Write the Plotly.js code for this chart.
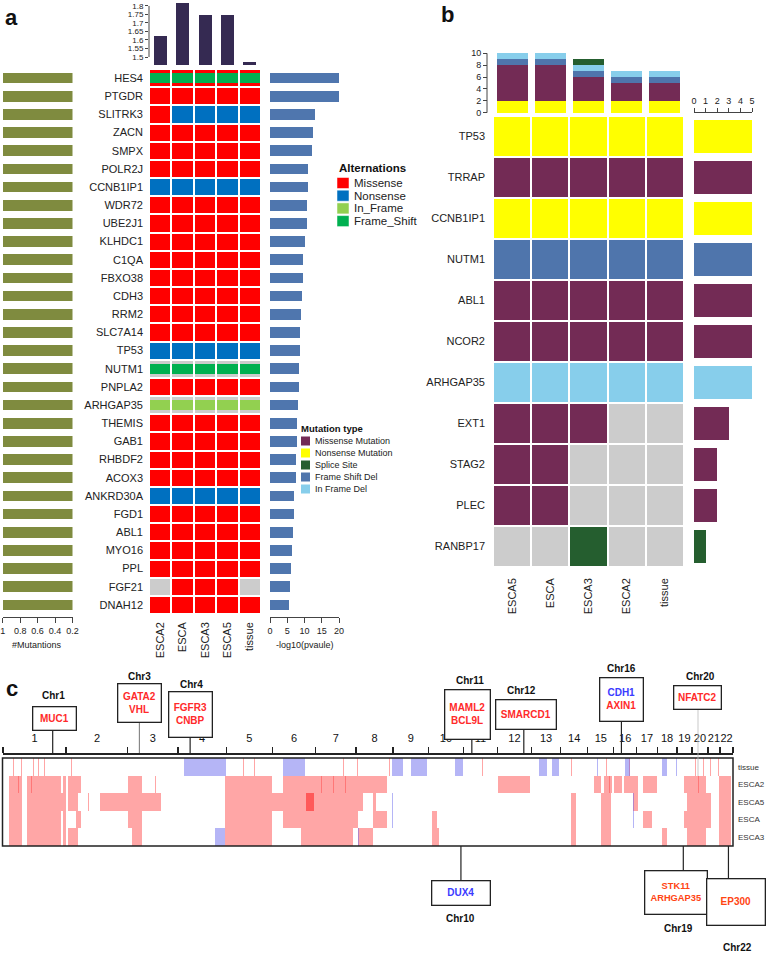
<!DOCTYPE html>
<html><head><meta charset="utf-8">
<script src="https://cdn.plot.ly/plotly-3.0.1.min.js"></script>
<style>body{margin:0;background:#fff}#chart{width:766px;height:953px}</style>
</head><body><div id="chart"></div>
<script>
// ================= DATA =================
// ---- Panel a ----
const aSamples = ['ESCA2','ESCA','ESCA3','ESCA5','tissue'];
const aTopValues = [1.625, 1.82, 1.745, 1.745, 1.472];
const aGenes = ['HES4','PTGDR','SLITRK3','ZACN','SMPX','POLR2J','CCNB1IP1','WDR72','UBE2J1','KLHDC1',
  'C1QA','FBXO38','CDH3','RRM2','SLC7A14','TP53','NUTM1','PNPLA2','ARHGAP35','THEMIS',
  'GAB1','RHBDF2','ACOX3','ANKRD30A','FGD1','ABL1','MYO16','PPL','FGF21','DNAH12'];
// full-cell alteration per sample: M=Missense, N=Nonsense, -=none
const aFullCells = ['MMMMM','MMMMM','MNNNN','MMMMM','MMMMM','MMMMM','NNNNN','MMMMM','MMMMM','MMMMM',
  'MMMMM','MMMMM','MMMMM','MMMMM','MMMMM','NNNNN','-----','MMMMM','-----','MMMMM',
  'MMMMM','MMMMM','MMMMM','NNNNN','MMMMM','MMMMM','MMMMM','MMMMM','-MMM-','MMMMM'];
const aBandGenes = ['HES4','NUTM1','ARHGAP35'];
const aBandTypes = ['Frame_Shift','Frame_Shift','In_Frame'];
const aMutCount = [1,1,1,1,1,1,1,1,1,1,1,1,1,1,1,1,1,1,1,1,1,1,1,1,1,1,1,1,1,1];
const aNegLogP = [20,20,13.1,12.6,12.3,11.1,11.0,10.8,10.8,10.2,
  9.6,9.5,9.4,9.0,8.7,8.6,8.5,8.4,8.1,7.9,
  7.7,7.6,7.5,7.0,7.0,6.8,6.3,6.1,5.8,5.6];
const aLegendNames = ['Missense','Nonsense','In_Frame','Frame_Shift'];

// ---- Panel b ----
const bSamples = ['ESCA5','ESCA','ESCA3','ESCA2','tissue'];
const bNonsense = [2,2,2,2,2];
const bMissense = [6,6,4,3,3];
const bFrameShiftDel = [1,1,1,1,1];
const bInFrameDel = [1,1,1,1,1];
const bSplice = [0,0,1,0,0];
const bGenes = ['TP53','TRRAP','CCNB1IP1','NUTM1','ABL1','NCOR2','ARHGAP35','EXT1','STAG2','PLEC','RANBP17'];
// N=Nonsense, M=Missense, S=Splice, D=Frame Shift Del, I=In Frame Del, -=none
const bCells = ['NNNNN','MMMMM','NNNNN','DDDDD','MMMMM','MMMMM','IIIII','MMM--','MM---','MM---','--S--'];
const bCounts = [5,5,5,5,5,5,5,3,2,2,1];
const bCountType = ['N','M','N','D','M','M','I','M','M','M','S'];
const bLegendNames = ['Missense Mutation','Nonsense Mutation','Splice Site','Frame Shift Del','In Frame Del'];

// ---- Panel c ----
const cRows = ['tissue','ESCA2','ESCA5','ESCA','ESCA3'];
const chrNames = ['1','2','3','4','5','6','7','8','9','10','11','12','13','14','15','16','17','18','19','20','21','22'];
const chrLen = [249,243,198,191,181,171,159,146,141,136,135,134,115,107,103,90,81,78,59,63,48,51];
// segments in genome-wide Mb [start, end]
const cGainTissue = [[40,43],[70,73],[120,123],[138,141],[163,166],[270,273],[948,951],[990,993],[1040,1043],
  [1340,1343],[1398,1401],[1522,1525],[1880,1883],[1890,1893],[2240,2243],[2290,2293],[2380,2383],[2420,2423],
  [2440,2443],[2470,2473],[2700,2703],[2730,2733],[2760,2763],[2790,2793],[2820,2823],[2850,2853]];
const cLossTissue = [[712,878],[1105,1190],[1535,1578],[1609,1671],[1783,1816],[2112,2145],[2164,2193],
  [2343,2348],[2455,2474],[2600,2620],[2655,2660]];
const cGainESCA2 = [[25,74],[93,228],[238,248],[257,306],[494,548],[600,604],[877,1061],[1105,1516],[1951,2077],
  [2164,2167],[2329,2360],[2370,2400],[2410,2440],[2450,2503],[2523,2581],[2687,2774],[2823,2871],
  [60,63],[110,113],[1254,1257],[1303,1306],[1350,1352],[2390,2393],[2740,2743]];
const cLossESCA2 = [[1805,1808]];
const cGainESCA5 = [[25,74],[93,248],[257,296],[335,338],[383,625],[877,1196],[1225,1419],[1458,1470],
  [2242,2261],[2358,2397],[2484,2503],[2697,2794],[2823,2871]];
const cStrongESCA5 = [[1196,1225]];
const cLossESCA5 = [[1535,1538],[2485,2488]];
const cGainESCA = [[25,74],[93,228],[238,248],[287,306],[494,548],[877,1061],[1105,1400],[1458,1516],
  [1690,1710],[2242,2261],[2358,2397],[2523,2560],[2687,2794],[2823,2871]];
const cLossESCA = [[1535,1537],[2484,2487]];
const cGainESCA3 = [[25,74],[93,228],[238,248],[257,296],[509,548],[877,1061],[1177,1380],[1400,1458],
  [1690,1719],[2242,2261],[2358,2397],[2600,2620],[2697,2774],[2823,2871]];
const cLossESCA3 = [[838,877],[1400,1403],[1805,1808]];
// annotated genes: genome-wide position (Mb)
const cGeneLabels = ['MUC1','GATA2/VHL','FGFR3/CNBP','MAML2/BCL9L','SMARCD1','CDH1/AXIN1','NFATC2','DUX4','STK11/ARHGAP35','EP300'];
const cGeneChr = ['Chr1','Chr3','Chr4','Chr11','Chr12','Chr16','Chr20','Chr10','Chr19','Chr22'];
const cGeneMb = [196,538,738,1849,2054,2439,2741,1806,2683,2861];

// ================= STYLE / HELPERS =================
const FONT = 'Liberation Sans, Arial, sans-serif';
const NARROW = 'Liberation Sans Narrow, Liberation Sans, Arial, sans-serif';
const W = 766, H = 953;
const fx = p => p / W, fy = p => 1 - p / H;
function discrete(colors){const n=colors.length,cs=[];colors.forEach((c,i)=>{cs.push([i/n,c]);cs.push([(i+1)/n,c]);});return cs;}

const aColorMap = {'-':'#cccccc','M':'#ff0000','N':'#0070c0','I':'#92d050','F':'#00b050'};
const aCodes = ['-','M','N','I','F'];
const aTypeColor = {Missense:'#ff0000',Nonsense:'#0070c0',In_Frame:'#92d050',Frame_Shift:'#00b050'};
const bColorMap = {'-':'#cccccc','M':'#732b55','N':'#ffff00','S':'#255e2f','D':'#4f75ac','I':'#87ceeb'};
const bCodes = ['-','M','N','S','D','I'];
const bLegendColors = ['#732b55','#ffff00','#255e2f','#4f75ac','#87ceeb'];

const traces = [];
const aIdx = aGenes.map((g,i)=>i);
const bIdx = bGenes.map((g,i)=>i);

// ---- panel a traces ----
traces.push({type:'bar', x:aSamples, y:aTopValues, xaxis:'x', yaxis:'y', width:0.58,
  marker:{color:'#352a52'}, hoverinfo:'skip'});
traces.push({type:'heatmap', x:aSamples, y:aIdx,
  z:aFullCells.map(r=>r.split('').map(c=>aCodes.indexOf(c))),
  xaxis:'x2', yaxis:'y2', xgap:2, ygap:2, zmin:0, zmax:4,
  colorscale:discrete(aCodes.map(c=>aColorMap[c])), showscale:false, hoverinfo:'skip'});
{
  const bx=[],by=[],bb=[],bc=[];
  aBandGenes.forEach((g,k)=>{const i=aGenes.indexOf(g);
    aSamples.forEach(s=>{bx.push(s);by.push(0.56);bb.push(i-0.28);bc.push(aTypeColor[aBandTypes[k]]);});});
  traces.push({type:'bar', x:bx, y:by, base:bb, xaxis:'x2', yaxis:'y2', width:0.91,
    marker:{color:bc, line:{width:0}}, hoverinfo:'skip'});
}
traces.push({type:'bar', orientation:'h', x:aMutCount, y:aIdx, xaxis:'x3', yaxis:'y3', width:0.58,
  marker:{color:'#7f8b3f'}, hoverinfo:'skip'});
traces.push({type:'bar', orientation:'h', x:aNegLogP, y:aIdx, xaxis:'x4', yaxis:'y4', width:0.58,
  marker:{color:'#4f76ae'}, hoverinfo:'skip'});

// ---- panel b traces ----
[[bNonsense,'#ffff00'],[bMissense,'#732b55'],[bFrameShiftDel,'#4f75ac'],[bInFrameDel,'#87ceeb'],[bSplice,'#255e2f']]
  .forEach(([v,c])=>traces.push({type:'bar', x:bSamples, y:v, xaxis:'x5', yaxis:'y5', width:0.81,
    marker:{color:c, line:{width:0}}, hoverinfo:'skip'}));
traces.push({type:'heatmap', x:bSamples, y:bIdx,
  z:bCells.map(r=>r.split('').map(c=>bCodes.indexOf(c))),
  xaxis:'x6', yaxis:'y6', xgap:2, ygap:2, zmin:0, zmax:5,
  colorscale:discrete(bCodes.map(c=>bColorMap[c])), showscale:false, hoverinfo:'skip'});
traces.push({type:'bar', orientation:'h', x:bCounts, y:bIdx, xaxis:'x7', yaxis:'y7', width:0.8,
  marker:{color:bCountType.map(c=>bColorMap[c])}, hoverinfo:'skip'});

// ---- panel c traces ----
function segTrace(rowsSegs, color){
  const x=[],y=[],base=[];
  rowsSegs.forEach(([row,segs])=>segs.forEach(([s,e])=>{x.push(e-s);y.push(row);base.push(s);}));
  return {type:'bar', orientation:'h', x, y, base, xaxis:'x8', yaxis:'y8', width:1,
    marker:{color, line:{width:0}}, hoverinfo:'skip'};
}
traces.push(segTrace([['tissue',cGainTissue],['ESCA2',cGainESCA2],['ESCA5',cGainESCA5],['ESCA',cGainESCA],['ESCA3',cGainESCA3]],'rgba(255,70,70,0.48)'));
traces.push(segTrace([['ESCA5',cStrongESCA5]],'rgba(255,60,60,0.85)'));
traces.push(segTrace([['tissue',cLossTissue],['ESCA2',cLossESCA2],['ESCA5',cLossESCA5],['ESCA',cLossESCA],['ESCA3',cLossESCA3]],'rgba(90,90,235,0.45)'));

// chromosome boundaries and midpoints
const chrStart=[]; let acc=0; chrLen.forEach(l=>{chrStart.push(acc);acc+=l;});
const genomeLen = acc;
const chrBounds = chrStart.concat([genomeLen]);
const chrMid = chrStart.map((s,i)=>s+chrLen[i]/2);

// ================= LAYOUT =================
const base = {fixedrange:true, showgrid:false, zeroline:false};
const tf = (s)=>({family:FONT, size:s, color:'#222'});
const layout = {
  width:W, height:H, margin:{l:0,r:0,t:0,b:0}, paper_bgcolor:'#fff', plot_bgcolor:'rgba(0,0,0,0)',
  showlegend:false, barmode:'stack', font:{family:FONT, color:'#222'},
  // panel a top bars
  xaxis:{...base, domain:[fx(149),fx(261)], range:[-0.5,4.5], showticklabels:false, ticks:'', anchor:'y'},
  yaxis:{...base, domain:[fy(65),fy(0)], range:[1.453,1.835], anchor:'x',
    tickvals:[1.5,1.55,1.6,1.65,1.7,1.75,1.8], ticktext:['1.5','1.55','1.6','1.65','1.7','1.75','1.8'],
    ticks:'outside', ticklen:3, tickcolor:'#444', tickfont:tf(8)},
  // panel a heatmap
  xaxis2:{...base, domain:[fx(149),fx(261)], anchor:'y2', type:'category', tickangle:-90, ticks:'',
    tickfont:tf(11), ticklabelstandoff:5},
  yaxis2:{...base, domain:[fy(614),fy(69)], anchor:'x2', range:[29.5,-0.5], tickvals:aIdx, ticktext:aGenes,
    ticks:'', tickfont:tf(11), ticklabelstandoff:5},
  // panel a left bars
  xaxis3:{...base, domain:[fx(2.7),fx(72.5)], range:[1,0.2], anchor:'free', position:fy(617),
    tickvals:[1,0.8,0.6,0.4,0.2], ticktext:['1','0.8','0.6','0.4','0.2'], ticks:'outside', ticklen:5,
    tickcolor:'#444', showline:true, linecolor:'#444', linewidth:1, tickfont:tf(9), tickangle:0},
  yaxis3:{...base, domain:[fy(614),fy(69)], anchor:'x3', range:[29.5,-0.5], visible:false},
  // panel a right bars
  xaxis4:{...base, domain:[fx(270),fx(339)], range:[0,20], anchor:'free', position:fy(617),
    tickvals:[0,5,10,15,20], ticks:'outside', ticklen:5, tickcolor:'#444', showline:true, linecolor:'#444',
    linewidth:1, tickfont:tf(9), tickangle:0},
  yaxis4:{...base, domain:[fy(614),fy(69)], anchor:'x4', range:[29.5,-0.5], visible:false},
  // panel b stacked bars
  xaxis5:{...base, domain:[fx(493),fx(684)], range:[-0.5,4.5], showticklabels:false, ticks:'', anchor:'y5'},
  yaxis5:{...base, domain:[fy(114),fy(52)], range:[-0.22,10.22], anchor:'free', position:fx(487),
    tickvals:[0,2,4,6,8,10], ticks:'outside', ticklen:4, tickcolor:'#444', tickfont:tf(9)},
  // panel b heatmap
  xaxis6:{...base, domain:[fx(493),fx(684)], anchor:'y6', type:'category', tickangle:-90, ticks:'',
    tickfont:tf(11), ticklabelstandoff:8},
  yaxis6:{...base, domain:[fy(567),fy(116)], anchor:'x6', range:[10.5,-0.5], tickvals:bIdx, ticktext:bGenes,
    ticks:'', tickfont:tf(11), ticklabelstandoff:7},
  // panel b right bars
  xaxis7:{...base, domain:[fx(694),fx(752)], range:[0,5], side:'top', anchor:'free', position:fy(112),
    tickvals:[0,1,2,3,4,5], ticks:'outside', ticklen:4, tickcolor:'#444', showline:true, linecolor:'#444',
    linewidth:1, tickfont:tf(9), tickangle:0},
  yaxis7:{...base, domain:[fy(567),fy(116)], anchor:'x7', range:[10.5,-0.5], visible:false},
  // panel c
  xaxis8:{...base, domain:[fx(3),fx(733)], range:[0,genomeLen], side:'top', anchor:'free', position:fy(753),
    tickvals:chrMid, ticktext:chrNames, ticks:'', tickangle:0, tickfont:{family:FONT,size:11,color:'#111'},
    ticklabelstandoff:7, showline:true, linecolor:'#222', linewidth:1.5,
    minor:{tickmode:'array', tickvals:chrBounds, ticks:'outside', ticklen:6, tickcolor:'#222', tickwidth:1.3}},
  yaxis8:{...base, domain:[fy(846),fy(758)], anchor:'x8', side:'right', type:'category', categoryarray:cRows,
    range:[4.5,-0.5], ticks:'', tickfont:{family:NARROW,size:8,color:'#333'}, ticklabelstandoff:4},
  shapes:[], annotations:[]
};

const S = layout.shapes, A = layout.annotations;
// axis lines (R style)
S.push({type:'line', xref:'paper', yref:'y', x0:fx(149), x1:fx(149), y0:1.5, y1:1.8, line:{color:'#444',width:1}});
S.push({type:'line', xref:'paper', yref:'y5', x0:fx(487), x1:fx(487), y0:0, y1:10, line:{color:'#444',width:1}});
// panel c frame
S.push({type:'rect', xref:'paper', yref:'paper', x0:fx(2.5), x1:fx(733), y0:fy(846), y1:fy(758), line:{color:'#222',width:1.5}});

// panel letters
[['a',12,18],['b',447,14],['c',12,688]].forEach(([t,x,y])=>A.push({xref:'paper',yref:'paper',x:fx(x),y:fy(y),
  text:'<b>'+t+'</b>', showarrow:false, font:{family:FONT,size:22,color:'#111'}, xanchor:'center', yanchor:'middle'}));

// axis titles panel a
A.push({xref:'paper',yref:'paper',x:fx(37),y:fy(645),text:'#Mutantions',showarrow:false,font:tf(9),xanchor:'center',yanchor:'middle'});
A.push({xref:'paper',yref:'paper',x:fx(305),y:fy(645),text:'-log10(pvaule)',showarrow:false,font:tf(9),xanchor:'center',yanchor:'middle'});

// Alternations legend
A.push({xref:'paper',yref:'paper',x:fx(337),y:fy(168),text:'<b>Alternations</b>',showarrow:false,
  font:{family:FONT,size:11.5,color:'#111'},xanchor:'left',yanchor:'middle'});
aLegendNames.forEach((n,i)=>{const cy=183+i*12.7;
  S.push({type:'rect',xref:'paper',yref:'paper',x0:fx(337),x1:fx(349),y0:fy(cy+5.5),y1:fy(cy-5.5),
    fillcolor:aTypeColor[n],line:{color:'#fff',width:0.5}});
  A.push({xref:'paper',yref:'paper',x:fx(352),y:fy(cy),text:n,showarrow:false,font:tf(11.5),xanchor:'left',yanchor:'middle'});
});
// Mutation type legend
A.push({xref:'paper',yref:'paper',x:fx(299),y:fy(428),text:'<b>Mutation type</b>',showarrow:false,
  font:{family:FONT,size:9.5,color:'#111'},xanchor:'left',yanchor:'middle'});
bLegendNames.forEach((n,i)=>{const cy=441+i*12;
  S.push({type:'rect',xref:'paper',yref:'paper',x0:fx(301),x1:fx(310),y0:fy(cy+4.5),y1:fy(cy-4.5),
    fillcolor:bLegendColors[i],line:{width:0}});
  A.push({xref:'paper',yref:'paper',x:fx(313),y:fy(cy),text:n,showarrow:false,font:tf(9),xanchor:'left',yanchor:'middle'});
});

// panel c gene boxes
const RED='#ff2a2a', ORANGE='#ff4513', BLUE='#3b3bff';
const boxes = [
  // cx, cy, w, h, html, chrLabelX, chrLabelY, lineFrom, lineTo, lineColor, fontSize
  [54,718,36,16,`<span style="color:${RED}">MUC1</span>`,53,695,730,753,'#222',10],
  [139,703,36,31,`<span style="color:${RED}">GATA2<br>VHL</span>`,139,676,722,753,'#888',10],
  [190,714,36,38,`<span style="color:${RED}">FGFR3<br>CNBP</span>`,191,684,737,753,'#222',10],
  [467,714,38,42,`<span style="color:${RED}">MAML2<br>BCL9L</span>`,470,680,738,753,'#222',10],
  [526,714,53,22,`<span style="color:${RED}">SMARCD1</span>`,521,690,728,753,'#222',10],
  [621,699,36,36,`<span style="color:${BLUE}">CDH1</span><br><span style="color:${RED}">AXIN1</span>`,621,668,720,753,'#222',10],
  [697,697,40,16,`<span style="color:${RED}">NFATC2</span>`,700,676,708,776,'#bbb',10],
  [461,893,51,17,`<span style="color:${BLUE}">DUX4</span>`,461,918,846,882,'#222',10],
  [676,892,55,36,`<span style="color:${ORANGE}">STK11<br>ARHGAP35</span>`,678,928,846,871,'#222',9.3],
  [736,902,51,39,`<span style="color:${ORANGE}">EP300</span>`,737,947,846,880,'#222',10]
];
boxes.forEach((b,i)=>{
  const [cx,cy,w,h,html,lx,ly,l0,l1,lc,fs]=b;
  S.push({type:'line',xref:'x8',yref:'paper',x0:cGeneMb[i],x1:cGeneMb[i],y0:fy(l0),y1:fy(l1),
    line:{color:lc,width:lc==='#bbb'?0.8:1.2}});
  A.push({xref:'paper',yref:'paper',x:fx(cx),y:fy(cy),text:'<b>'+html+'</b>',showarrow:false,
    font:{family:NARROW,size:fs,color:RED},bordercolor:'#222',borderwidth:1.3,borderpad:3,bgcolor:'#fff',
    width:w,height:h,align:'center',xanchor:'center',yanchor:'middle'});
  A.push({xref:'paper',yref:'paper',x:fx(lx),y:fy(ly),text:'<b>'+cGeneChr[i]+'</b>',showarrow:false,
    font:{family:NARROW,size:10,color:'#111'},xanchor:'center',yanchor:'middle'});
});

Plotly.newPlot('chart', traces, layout, {staticPlot:true, displayModeBar:false});
</script>
</body></html>
